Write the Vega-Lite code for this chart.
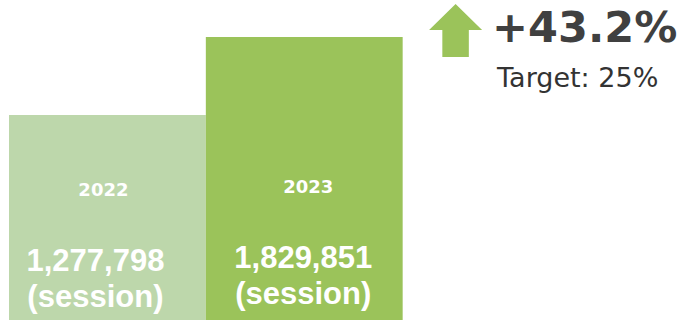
{
  "$schema": "https://vega.github.io/schema/vega-lite/v6.json",
  "width": 690,
  "height": 321,
  "autosize": {"type": "fit", "contains": "padding"},
  "padding": {"left": 0, "top": 0, "right": 0, "bottom": 1},
  "background": "white",
  "config": {"view": {"stroke": null}},
  "data": {"values": [
    {"year": "2022", "sessions": 1277798},
    {"year": "2023", "sessions": 1829851}
  ]},
  "encoding": {
    "x": {"field": "year", "type": "nominal", "axis": null,
      "scale": {"domain": ["2022", "2023", "change"], "range": [9, 599.5], "paddingInner": 0, "paddingOuter": 0}}
  },
  "layer": [
    {
      "mark": {"type": "bar"},
      "encoding": {
        "y": {"field": "sessions", "type": "quantitative", "axis": null,
          "scale": {"domain": [-173110, 2091722], "zero": false, "nice": false}},
        "y2": {"datum": -173110},
        "color": {"field": "year", "type": "nominal", "legend": null,
          "scale": {"domain": ["2022", "2023"], "range": ["#bdd7ab", "#9bc35a"]}}
      }
    },
    {
      "transform": [{"filter": "datum.year === '2022'"}],
      "layer": [
        {
          "mark": {"type": "text", "font": "DejaVu Sans", "fontWeight": "bold", "fontSize": 18, "color": "white", "baseline": "middle", "align": "center", "dx": -4, "dy": 1},
          "encoding": {"y": {"datum": 746978, "type": "quantitative"}, "text": {"field": "year"}}
        },
        {
          "mark": {"type": "text", "font": "Liberation Sans", "fontWeight": "bold", "fontSize": 31, "color": "white", "baseline": "alphabetic", "align": "center", "dx": -12, "dy": 1},
          "encoding": {"y": {"datum": 180770, "type": "quantitative"}, "text": {"field": "sessions", "type": "quantitative", "format": ","}}
        },
        {
          "mark": {"type": "text", "font": "Liberation Sans", "fontWeight": "bold", "fontSize": 31, "color": "white", "baseline": "alphabetic", "align": "center", "dx": -12, "dy": 1},
          "encoding": {"y": {"datum": -74024, "type": "quantitative"}, "text": {"value": "(session)"}}
        }
      ]
    },
    {
      "transform": [{"filter": "datum.year === '2023'"}],
      "layer": [
        {
          "mark": {"type": "text", "font": "DejaVu Sans", "fontWeight": "bold", "fontSize": 18, "color": "white", "baseline": "middle", "align": "center", "dx": 4, "dy": -2},
          "encoding": {"y": {"datum": 746978, "type": "quantitative"}, "text": {"field": "year"}}
        },
        {
          "mark": {"type": "text", "font": "Liberation Sans", "fontWeight": "bold", "fontSize": 31, "color": "white", "baseline": "alphabetic", "align": "center", "dx": -1, "dy": -2},
          "encoding": {"y": {"datum": 180770, "type": "quantitative"}, "text": {"field": "sessions", "type": "quantitative", "format": ","}}
        },
        {
          "mark": {"type": "text", "font": "Liberation Sans", "fontWeight": "bold", "fontSize": 31, "color": "white", "baseline": "alphabetic", "align": "center", "dx": -1, "dy": -2},
          "encoding": {"y": {"datum": -74024, "type": "quantitative"}, "text": {"value": "(session)"}}
        }
      ]
    },
    {
      "data": {"values": [{"year": "change", "pct": "+43.2%", "target": "Target: 25%"}]},
      "layer": [
        {
          "mark": {"type": "point", "filled": true, "opacity": 1, "color": "#9bc35a", "size": 2809, "xOffset": -45.5,
            "shape": "M0,-1L1,-0.02L0.5,-0.02L0.5,1L-0.5,1L-0.5,-0.02L-1,-0.02Z"},
          "encoding": {"y": {"datum": 1875855, "type": "quantitative"}}
        },
        {
          "mark": {"type": "text", "font": "DejaVu Sans", "fontWeight": "bold", "fontSize": 43, "color": "#404040", "baseline": "alphabetic", "align": "left", "dx": -9},
          "encoding": {"y": {"datum": 1794463, "type": "quantitative"}, "text": {"field": "pct"}}
        },
        {
          "mark": {"type": "text", "font": "DejaVu Sans", "fontSize": 27, "color": "#333333", "baseline": "alphabetic", "align": "left", "dx": -4},
          "encoding": {"y": {"datum": 1475971, "type": "quantitative"}, "text": {"field": "target"}}
        }
      ]
    }
  ]
}
